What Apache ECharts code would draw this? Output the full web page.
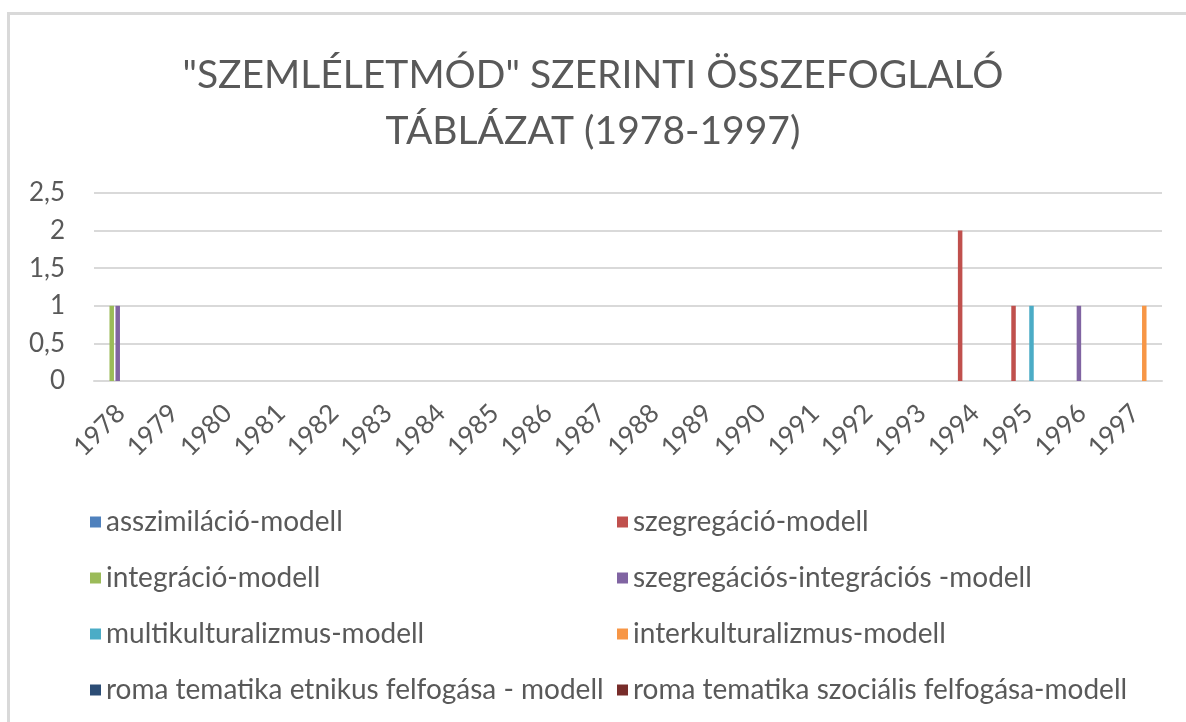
<!DOCTYPE html>
<html>
<head>
<meta charset="utf-8">
<script src="https://cdn.jsdelivr.net/npm/echarts@6/dist/echarts.min.js"></script>
<style>
  html, body { margin: 0; padding: 0; background: #fff; }
  #main { width: 1186px; height: 722px; }
</style>
</head>
<body>
<div id="main"></div>
<script>
var years = ['1978', '1979', '1980', '1981', '1982', '1983', '1984', '1985', '1986', '1987',
             '1988', '1989', '1990', '1991', '1992', '1993', '1994', '1995', '1996', '1997'];

var seriesNames = [
    'asszimiláció-modell',
    'szegregáció-modell',
    'integráció-modell',
    'szegregációs-integrációs -modell',
    'multikulturalizmus-modell',
    'interkulturalizmus-modell',
    'roma tematika etnikus felfogása - modell',
    'roma tematika szociális felfogása-modell'
];

var colors = ['#4F81BD', '#C0504D', '#9BBB59', '#8064A2', '#4BACC6', '#F79646', '#2C4D75', '#772C2A'];

// értékek évenként (1978..1997)
var asszimilacio    = [0, 0, 0, 0, 0, 0, 0, 0, 0, 0, 0, 0, 0, 0, 0, 0, 0, 0, 0, 0];
var szegregacio     = [0, 0, 0, 0, 0, 0, 0, 0, 0, 0, 0, 0, 0, 0, 0, 0, 2, 1, 0, 0];
var integracio      = [1, 0, 0, 0, 0, 0, 0, 0, 0, 0, 0, 0, 0, 0, 0, 0, 0, 0, 0, 0];
var szegIntegracios = [1, 0, 0, 0, 0, 0, 0, 0, 0, 0, 0, 0, 0, 0, 0, 0, 0, 0, 1, 0];
var multikult       = [0, 0, 0, 0, 0, 0, 0, 0, 0, 0, 0, 0, 0, 0, 0, 0, 0, 1, 0, 0];
var interkult       = [0, 0, 0, 0, 0, 0, 0, 0, 0, 0, 0, 0, 0, 0, 0, 0, 0, 0, 0, 1];
var romaEtnikus     = [0, 0, 0, 0, 0, 0, 0, 0, 0, 0, 0, 0, 0, 0, 0, 0, 0, 0, 0, 0];
var romaSzocialis   = [0, 0, 0, 0, 0, 0, 0, 0, 0, 0, 0, 0, 0, 0, 0, 0, 0, 0, 0, 0];

var seriesValues = [asszimilacio, szegregacio, integracio, szegIntegracios,
                    multikult, interkult, romaEtnikus, romaSzocialis];

var yTicks = [0, 0.5, 1, 1.5, 2, 2.5];

var textColor = '#595959';
var fontFam = 'Lato, "Open Sans", sans-serif';

var myChart = echarts.init(document.getElementById('main'));

var series = seriesValues.map(function (vals, i) {
    return {
        name: seriesNames[i],
        type: 'bar',
        data: vals,
        barWidth: 4.5,
        barGap: '33%',
        itemStyle: { color: colors[i] }
    };
});

function legendStyle(names, left) {
    return {
        orient: 'vertical',
        left: left,
        top: 503,
        data: names,
        icon: 'rect',
        itemWidth: 11,
        itemHeight: 11,
        itemGap: 28,
        selectedMode: false,
        textStyle: {
            color: textColor, fontSize: 28, fontFamily: fontFam,
            lineHeight: 28, padding: [0, 0, 0, 0]
        }
    };
}

var option = {
    backgroundColor: '#fff',
    animation: false,
    color: colors,
    title: {
        text: '"SZEMLÉLETMÓD" SZERINTI ÖSSZEFOGLALÓ\nTÁBLÁZAT (1978-1997)',
        left: 'center',
        top: 42,
        textStyle: {
            color: textColor,
            fontSize: 39,
            fontWeight: 'normal',
            fontFamily: fontFam,
            lineHeight: 56
        }
    },
    legend: [
        legendStyle([seriesNames[0], seriesNames[2], seriesNames[4], seriesNames[6]], 85),
        legendStyle([seriesNames[1], seriesNames[3], seriesNames[5], seriesNames[7]], 612)
    ],
    grid: {
        left: 94,
        right: 24,
        top: 193,
        bottom: 341
    },
    xAxis: {
        type: 'category',
        data: years,
        axisLine: { lineStyle: { color: '#d9d9d9', width: 2 } },
        axisTick: { show: false },
        axisLabel: {
            rotate: 45,
            interval: 0,
            color: textColor,
            fontSize: 26,
            fontFamily: fontFam,
            margin: 28
        }
    },
    yAxis: {
        type: 'value',
        min: yTicks[0],
        max: yTicks[yTicks.length - 1],
        interval: 0.5,
        axisLine: { show: false },
        axisTick: { show: false },
        splitLine: { lineStyle: { color: '#d9d9d9', width: 2 } },
        axisLabel: {
            color: textColor,
            fontSize: 26,
            fontFamily: fontFam,
            margin: 29,
            formatter: function (v) { return String(v).replace('.', ','); }
        }
    },
    graphic: [{
        type: 'rect',
        shape: { x: 8.5, y: 13.5, width: 1200, height: 720 },
        style: { fill: 'none', stroke: '#d9d9d9', lineWidth: 3 },
        silent: true
    }],
    series: series
};

myChart.setOption(option);
</script>
</body>
</html>
